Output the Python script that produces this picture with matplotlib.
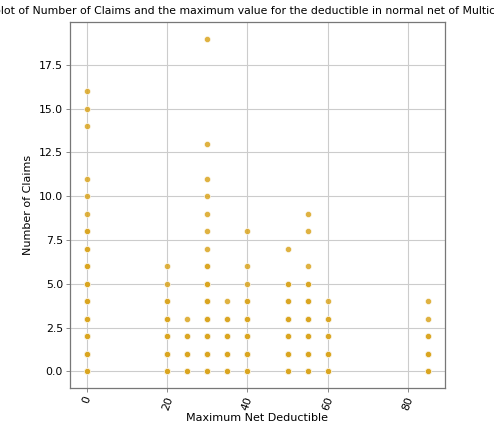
import numpy as np
import matplotlib
matplotlib.use('Agg')
import matplotlib.pyplot as plt

# Maximum net deductible (x) and number of claims (y), one entry per distinct point;
# counts = how many policies share that point (estimated from marker overlap)
deductible = (
    [0] * 15 + [20] * 7 + [25] * 4 + [30] * 14 + [35] * 5 +
    [40] * 8 + [50] * 7 + [55] * 9 + [60] * 5 + [85] * 5
)
claims = (
    [0, 1, 2, 3, 4, 5, 6, 7, 8, 9, 10, 11, 14, 15, 16] +
    [0, 1, 2, 3, 4, 5, 6] +
    [0, 1, 2, 3] +
    [0, 1, 2, 3, 4, 5, 6, 7, 8, 9, 10, 11, 13, 19] +
    [0, 1, 2, 3, 4] +
    [0, 1, 2, 3, 4, 5, 6, 8] +
    [0, 1, 2, 3, 4, 5, 7] +
    [0, 1, 2, 3, 4, 5, 6, 8, 9] +
    [0, 1, 2, 3, 4] +
    [0, 1, 2, 3, 4]
)
counts = (
    [4, 4, 4, 4, 3, 3, 3, 2, 2, 1, 1, 1, 1, 1, 1] +
    [4, 4, 3, 3, 2, 1, 1] +
    [3, 3, 2, 1] +
    [4, 4, 4, 3, 3, 3, 2, 1, 1, 1, 1, 1, 1, 1] +
    [3, 3, 3, 2, 1] +
    [4, 4, 3, 3, 2, 1, 1, 1] +
    [4, 4, 3, 3, 2, 2, 1] +
    [4, 4, 3, 3, 3, 2, 1, 1, 1] +
    [3, 3, 2, 2, 1] +
    [3, 3, 2, 1, 1]
)

x = np.repeat(deductible, counts)
y = np.repeat(claims, counts)

fs = 7.8
fig = plt.figure(figsize=(4.94, 4.26), dpi=100)
ax = fig.add_axes([0.1417, 0.0892, 0.7591, 0.8592])

ax.scatter(x, y, s=20, c='goldenrod', edgecolors='white', linewidths=0.5,
           alpha=0.85, zorder=3)

ax.set_title('Scatter plot of Number of Claims and the maximum value for the '
             'deductible in normal net of Multicar Insurance', fontsize=fs)
ax.set_xlabel('Maximum Net Deductible', fontsize=8, labelpad=1)
ax.set_ylabel('Number of Claims', fontsize=8)

ax.set_xticks([0, 20, 40, 60, 80])
ax.set_yticks(np.arange(0, 17.6, 2.5))
ax.tick_params(labelsize=fs, length=3, width=0.6, color='#777777', pad=2)
plt.setp(ax.get_xticklabels(), rotation=70)

ax.grid(color='#cccccc', linewidth=0.8, zorder=0)
ax.set_axisbelow(True)
for sp in ax.spines.values():
    sp.set_color('#777777')
    sp.set_linewidth(0.9)

fig.savefig('out.png', dpi=100)
